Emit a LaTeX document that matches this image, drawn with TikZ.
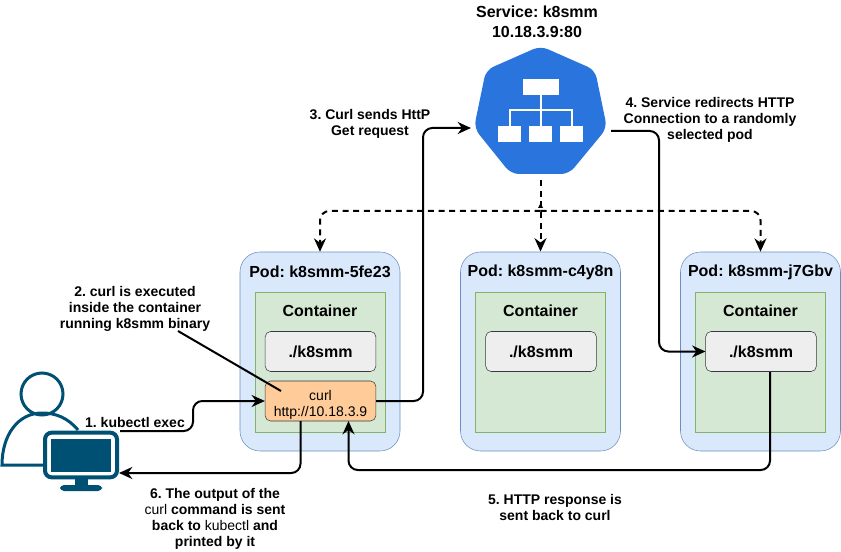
\documentclass[tikz,border=0pt]{standalone}
\usepackage{fontspec}
\setmainfont{Liberation Sans}
\usetikzlibrary{arrows.meta}
\frenchspacing
\definecolor{podfill}{HTML}{DAE8FC}
\definecolor{poddraw}{HTML}{6C8EBF}
\definecolor{boxfill}{HTML}{D5E8D4}
\definecolor{boxdraw}{HTML}{82B366}
\definecolor{binfill}{HTML}{EEEEEE}
\definecolor{bindraw}{HTML}{36393D}
\definecolor{curlfill}{HTML}{FFCC99}
\definecolor{svcblue}{HTML}{2A74DE}
\definecolor{userblue}{HTML}{005073}
\tikzset{
    podbox/.style={draw=poddraw, fill=podfill, rounded corners=15pt, minimum width=120pt, minimum height=149.25pt},
    ctrbox/.style={draw=boxdraw, fill=boxfill, minimum width=97.5pt, minimum height=105pt},
    binbox/.style={draw=bindraw, fill=binfill, rounded corners=4pt, minimum width=83pt, minimum height=30pt},
    curlbox/.style={draw=bindraw, fill=curlfill, rounded corners=4pt, minimum width=83pt, minimum height=30pt, inner ysep=0pt, align=center, font=\fontsize{10.5}{12}\selectfont},
    lbl/.style={align=center, font=\fontsize{10.5}{12}\bfseries\selectfont},
    title/.style={font=\fontsize{12}{15}\bfseries\selectfont},
    conn/.style={draw, line width=1.5pt, rounded corners=7pt, -{Stealth[length=10pt,width=9pt]}},
    dashconn/.style={conn, dashed, dash pattern=on 4.5pt off 3.5pt},
    white box/.style={fill=white, draw=none, inner sep=0pt}
}
\begin{document}
\begin{tikzpicture}[x=0.75pt, y=-0.75pt]
    \useasboundingbox (0,0) rectangle (841,552);
    % pods
    \foreach \i/\px/\pname in {1/320/5fe23, 2/540.5/c4y8n, 3/760.5/j7Gbv} {
        \node[podbox] (pod\i) at (\px, 351.5) {};
        \node[ctrbox] (ctr\i) at (\px, 362) {};
        \node[title] (podname\i) at (\px, 272) {Pod: k8smm-\pname};
        \node[title] (ctrname\i) at (\px, 311) {Container};
        \node[binbox, title, xshift=0.4pt] (bin\i) at (\px, 351.5) {./k8smm};
    }
    \node[curlbox] (curl) at (320.5, 401) {\rule{0pt}{14pt}curl\\http://10.18.3.9};
    % service
    \fill[svcblue, rounded corners=6pt] (540.5,46) -- (595,70) -- (607,128) -- (569,174) -- (511,174) -- (474,128) -- (486,70) -- cycle;
    \node[title, align=center] (svcname) at (537, 21.5) {Service: k8smm\\10.18.3.9:80};
    \coordinate (svcleft) at (471,128);
    \coordinate (svcright) at (611,131);
    \coordinate (svcbottom) at (540.5,180);
    \coordinate (fork) at (540.5,211);
    \draw[white, line width=1.5pt] (540.5,95) -- (540.5,126) (510,126) -- (510,110) -- (572,110) -- (572,126);
    \node[white box, minimum width=27pt, minimum height=12pt] (svctop) at (541,87) {};
    \foreach \i/\bx in {1/509.5, 2/540.5, 3/571.5} {
        \node[white box, minimum width=17pt, minimum height=12pt] (svcleaf\i) at (\bx,134) {};
    }
    % user
    \draw[userblue, line width=2.25pt] (42,394) circle (21);
    \draw[userblue, line width=2.25pt] (78,430) .. controls (68,418) and (56,413) .. (42,413) .. controls (18,413) and (2,435) .. (2,465) -- (44,465);
    \fill[userblue, rounded corners=3pt] (60,485) rectangle (102,491);
    \fill[userblue] (75,478) rectangle (88,486);
    \node[draw=userblue, fill=white, line width=3pt, rounded corners=5pt, minimum width=54pt, minimum height=33.5pt] (monitor) at (81,455) {};
    \node[fill=userblue, minimum width=45pt, minimum height=25pt, inner sep=0pt] (screen) at (81,455.5) {};
    % connectors
    \coordinate (userout) at (120,431);
    \coordinate (userin) at (119,473);
    \draw[conn] (userout) -- (193,431) -- (193,401) -- (curl.west);
    \draw[conn] (curl.east) -- (423,401) -- (423,128) -- (svcleft);
    \draw[conn] (svcright) -- (659,131) -- (659,351.5) -- (bin3.west);
    \draw[conn] (770,372) -- (770,470) -- (348.5,470) -- (348.5,421);
    \draw[conn] (300.5,421) -- (300.5,473) -- (userin);
    \draw[line width=1.5pt, black] (178,331) -- (281,391);
    \draw[dashconn] (svcbottom) -- (540.5,251.5);
    \draw[dashconn] (fork) -- (320,211) -- (pod1.north);
    \draw[dashconn] (fork) -- (760.5,211) -- (pod3.north);
    \fill (540.5,203) -- (543,208) -- (538,208) -- cycle;
    % labels
    \node[lbl] (step1) at (135,422) {1. kubectl exec};
    \node[lbl] (step2) at (135,309) {2. curl is executed\\inside the container\\running k8smm binary};
    \node[lbl] (step3) at (370,124) {3. Curl sends HttP\\Get request};
    \node[lbl] (step4) at (710,120) {4. Service redirects HTTP\\Connection to a randomly\\selected pod};
    \node[lbl] (step5) at (555,507) {5. HTTP response is\\sent back to curl};
    \node[lbl] (step6) at (215,519) {6. The output of the\\{\mdseries curl} command is sent\\back to {\mdseries kubectl} and\\printed by it};
\end{tikzpicture}
\end{document}
